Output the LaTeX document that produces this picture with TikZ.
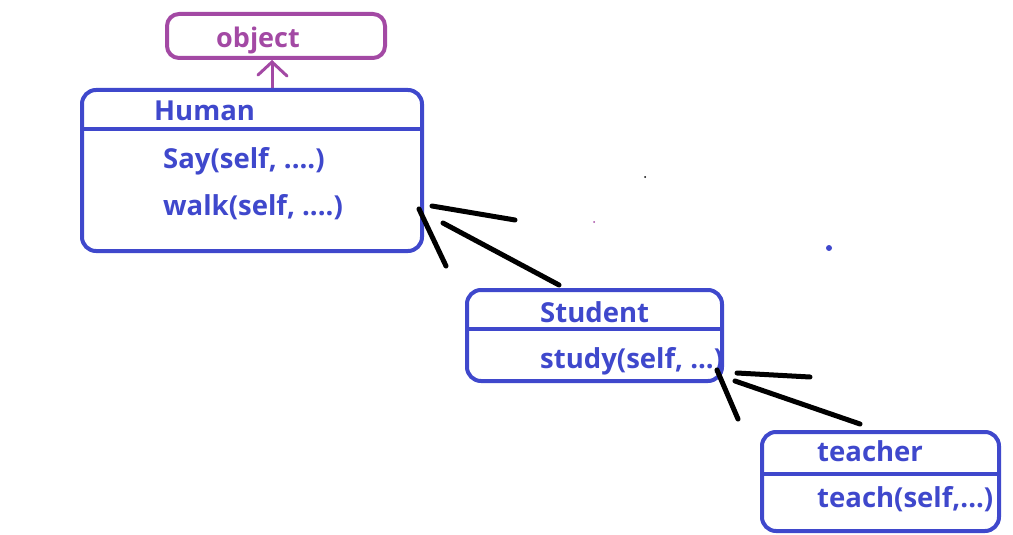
\documentclass[tikz,border=0pt]{standalone}
\usepackage{fontspec}
\setmainfont{Open Sans}
\definecolor{umlblue}{HTML}{3F48CC}
\definecolor{umlpurple}{HTML}{A349A4}
\begin{document}
\begin{tikzpicture}[x=1pt,y=-1pt,
  umlbox/.style={draw=umlblue,line width=4pt,rounded corners=14pt},
  sepline/.style={draw=umlblue,line width=4pt},
  lbl/.style={anchor=base west,inner sep=0pt,text=umlblue,font=\fontsize{27.5}{32}\selectfont\bfseries},
  objlbl/.style={anchor=base west,inner sep=0pt,text=umlpurple,font=\fontsize{27}{32}\selectfont\bfseries},
  pen/.style={draw=black,line width=5pt,line cap=round},
  ppen/.style={draw=umlpurple,line width=3pt,line cap=round}]
\useasboundingbox (0,0) rectangle (1013,535);
% object
\draw[ppen,line width=4pt,rounded corners=12pt] (167,14) rectangle (385,58);
\node[objlbl] (obj) at (216,48) {object};
\coordinate (objtip) at (272,62);
\coordinate (objtail) at (272,90);
\draw[ppen] (objtail) -- (objtip);
\draw[ppen] (258,75) -- (objtip) -- (287,76);
% Human
\draw[umlbox] (82,90) rectangle (422,251);
\draw[sepline] (82,129) -- (422,129);
\node[lbl] (human) at (154,121) {Human};
\node[lbl] (say) at (163,168) {Say(self, ....)};
\node[lbl] (walk) at (163,215) {walk(self, ....)};
% Student
\draw[umlbox] (467,290) rectangle (722,381);
\draw[sepline] (467,329) -- (722,329);
\node[lbl] (student) at (540,322) {Student};
\node[lbl] (study) at (540,368) {study(self, ...)};
% teacher
\draw[umlbox] (762,432) rectangle (999,531);
\draw[sepline] (762,474) -- (1001,474);
\node[lbl] (teacher) at (817,461) {teacher};
\node[lbl] (teach) at (817,507) {teach(self,...)};
% arrows
\coordinate (t1) at (419,209);
\draw[pen] (t1) -- (446,266);
\draw[pen] (432,206) -- (515,220);
\draw[pen] (443,223) -- (559,285);
\coordinate (t2) at (717,370);
\draw[pen] (t2) -- (738,419);
\draw[pen] (737,373) -- (810,377);
\draw[pen] (735,381) -- (860,424);
% stray dots
\fill[black] (645,177) circle (1pt);
\fill[umlpurple] (594,222) circle (1pt);
\fill[umlblue] (829,248) circle (3pt);
\end{tikzpicture}
\end{document}
